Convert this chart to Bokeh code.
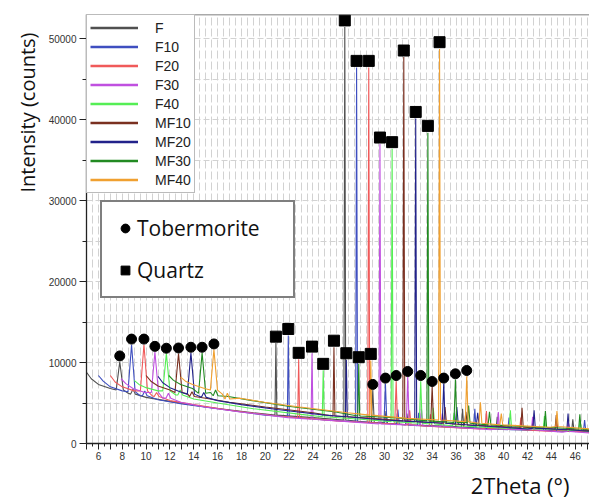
from bokeh.plotting import figure
from bokeh.models import Range1d, FixedTicker, Legend, LegendItem, Span, Title
from bokeh.embed import file_html
from bokeh.resources import INLINE

# ---------------- data ----------------
SERIES = ["F", "F10", "F20", "F30", "F40", "MF10", "MF20", "MF30", "MF40"]
COLORS = ["#505050", "#3f4fc0", "#f05a5a", "#c050e0", "#55ee55",
          "#7a3020", "#22228a", "#228a22", "#f0a030"]

# baseline knots of each trace (2theta, counts)
BASE_X = [
    [5.0, 5.4, 6.0, 7.0, 8.5, 10.0, 12.0, 15.0, 19.0, 24.0, 30.0, 36.0, 42.0, 47.2],
    [6.0, 6.4, 7.0, 8.0, 9.5, 11.0, 13.0, 16.0, 20.0, 25.0, 31.0, 37.0, 43.0, 47.2],
    [7.0, 7.4, 8.0, 9.0, 10.5, 12.0, 14.0, 17.0, 21.0, 26.0, 32.0, 38.0, 44.0, 47.2],
    [7.9, 8.3, 8.9, 9.9, 11.4, 12.9, 14.9, 17.9, 21.9, 26.9, 32.9, 38.9, 44.9, 47.2],
    [9.0, 9.4, 10.0, 11.0, 12.5, 14.0, 16.0, 19.0, 23.0, 28.0, 34.0, 40.0, 46.0, 47.2],
    [10.0, 10.4, 11.0, 12.0, 13.5, 15.0, 17.0, 20.0, 24.0, 29.0, 35.0, 41.0, 47.2],
    [11.0, 11.4, 12.0, 13.0, 14.5, 16.0, 18.0, 21.0, 25.0, 30.0, 36.0, 42.0, 47.2],
    [11.9, 12.3, 12.9, 13.9, 15.4, 16.9, 18.9, 21.9, 25.9, 30.9, 36.9, 42.9, 47.2],
    [12.9, 13.3, 13.9, 14.9, 16.4, 17.9, 19.9, 22.9, 26.9, 31.9, 37.9, 43.9, 47.2],
]
BASE_Y = [
    [8800, 8000, 7300, 6800, 6200, 5700, 5200, 4500, 3800, 3200, 2600, 2100, 1700, 1500],
    [8400, 7700, 7000, 6500, 5900, 5400, 4900, 4300, 3500, 2900, 2400, 1900, 1600, 1400],
    [8400, 7600, 7000, 6500, 5900, 5300, 4800, 4100, 3400, 2800, 2300, 1800, 1500, 1400],
    [8000, 7400, 6800, 6300, 5600, 5100, 4500, 3900, 3200, 2700, 2200, 1700, 1400, 1300],
    [7800, 7300, 6900, 6500, 6000, 5500, 5000, 4300, 3600, 3000, 2400, 1900, 1600, 1500],
    [8400, 7700, 7100, 6600, 6100, 5600, 5100, 4500, 3800, 3100, 2500, 2000, 1600],
    [8300, 7500, 6900, 6300, 5800, 5300, 4800, 4200, 3500, 2900, 2300, 1800, 1500],
    [8400, 7800, 7300, 6800, 6300, 5800, 5300, 4600, 3900, 3200, 2600, 2000, 1700],
    [8200, 7700, 7300, 6800, 6100, 5600, 5100, 4500, 3800, 3100, 2500, 2000, 1800],
]

# tobermorite peak near 7.8 deg (one per trace)
TOB1_X = [7.79, 8.78, 9.82, 10.74, 11.70, 12.72, 13.76, 14.70, 15.69]
TOB1_TOP = [10100, 12200, 12200, 11300, 11100, 11100, 11200, 11200, 11600]
TOB1_FOOT = [6600, 6400, 6500, 6300, 6500, 6300, 6100, 6200, 6600]
TOB1_MARK = [10820, 12900, 12900, 12000, 11770, 11800, 11890, 11890, 12300]

# quartz peak near 20.9 deg
Q1_X = [20.89, 21.93, 22.80, 23.92, 24.86, 25.76, 26.80, 27.84, 28.85]
Q1_TOP = [12400, 13350, 10400, 11150, 9050, 11900, 10350, 9850, 10250]
Q1_FOOT = [3500, 3300, 3200, 3000, 3300, 3400, 3300, 3400, 3500]
Q1_MARK = [13200, 14150, 11200, 11970, 9840, 12700, 11150, 10660, 11070]

# quartz main peak near 26.7 deg
Q2_X = [26.67, 27.66, 28.68, 29.62, 30.64, 31.62, 32.62, 33.64, 34.62]
Q2_TOP = [51450, 46450, 46450, 37000, 36400, 47750, 40150, 38400, 48750]
Q2_FOOT = [2900, 2700, 2600, 2400, 2700, 2800, 2700, 2800, 2900]
Q2_MARK = [52270, 47270, 47270, 37800, 37230, 48550, 40960, 39240, 49580]

# tobermorite peak near 29.0 deg
TOB2_X = [29.02, 30.08, 30.98, 31.95, 33.04, 34.00, 34.97, 35.95, 36.90]
TOB2_TOP = [6600, 7400, 7700, 8200, 7700, 7000, 7400, 7900, 8300]
TOB2_FOOT = [2600, 2500, 2400, 2300, 2500, 2600, 2500, 2600, 2700]
TOB2_MARK = [7300, 8080, 8400, 8900, 8400, 7660, 8080, 8610, 9020]

# smaller peaks
S1_X = [8.90, 9.89, 10.88, 11.87, 12.86, 13.85, 14.84, 15.83, 16.82]
S1_TOP = [6700, 6500, 6300, 6200, 6600, 6400, 6300, 6600, 6200]
S1_FOOT = [6100, 5900, 5800, 5600, 6000, 5800, 5700, 5900, 5500]

T4_X = [30.13, 31.12, 32.11, 33.10, 34.09, 35.08, 36.07, 37.06, 38.05]
T4_TOP = [4000, 4200, 4100, 4300, 4400, 4500, 4500, 4700, 5100]
T4_FOOT = [2500, 2400, 2300, 2200, 2400, 2500, 2400, 2500, 2500]

T3_X = [31.88, 32.87, 33.86, 34.85, 35.84, 36.83, 37.82, 38.81, 39.80]
T3_TOP = [3700, 3800, 3600, 3700, 3800, 3900, 3800, 3900, 3700]
T3_FOOT = [2300, 2200, 2100, 2100, 2200, 2300, 2200, 2300, 2300]

Q3_X = [36.55, 37.58, 38.55, 39.55, 40.56, 41.54, 42.55, 43.50, 44.47]
Q3_TOP = [4300, 4300, 4000, 3900, 4100, 4400, 4100, 4000, 4000]
Q3_FOOT = [2000, 1900, 1900, 1800, 1900, 2000, 1900, 2000, 2100]

Q4_X = [39.46, 40.45, 41.44, 42.43, 43.42, 44.41, 45.40, 46.39]
Q4_TOP = [3300, 3200, 3200, 3300, 3400, 3500, 3700, 3600]
Q4_FOOT = [1800, 1700, 1700, 1700, 1800, 1800, 1700, 1800]

Q5_X = [42.45, 43.44, 44.43, 45.42, 46.41]
Q5_TOP = [2800, 2700, 2700, 2700, 2900]
Q5_FOOT = [1700, 1600, 1600, 1500, 1600]

Q6_X = [45.80, 46.79]
Q6_TOP = [3000, 2900]
Q6_FOOT = [1500, 1500]

X_TICKS = list(range(5, 48))
Y_TICKS = [0, 10000, 20000, 30000, 40000, 50000]

NAN = float("nan")

# ---------------- styling ----------------
FAMILIES = [  # (x, top, foot, half width of the drawn spike in degrees)
    (TOB1_X, TOB1_TOP, TOB1_FOOT, 0.3),
    (S1_X, S1_TOP, S1_FOOT, 0.2),
    (Q1_X, Q1_TOP, Q1_FOOT, 0.08),
    (Q2_X, Q2_TOP, Q2_FOOT, 0.08),
    (TOB2_X, TOB2_TOP, TOB2_FOOT, 0.12),
    (T4_X, T4_TOP, T4_FOOT, 0.12),
    (T3_X, T3_TOP, T3_FOOT, 0.12),
    (Q3_X, Q3_TOP, Q3_FOOT, 0.1),
    (Q4_X, Q4_TOP, Q4_FOOT, 0.1),
    (Q5_X, Q5_TOP, Q5_FOOT, 0.1),
    (Q6_X, Q6_TOP, Q6_FOOT, 0.1),
]


def trace(i):
    peaks = [(fx[i], ft[i], ff[i], hw) for fx, ft, ff, hw in FAMILIES if i < len(fx)]
    pts = [(x, y) for x, y in zip(BASE_X[i], BASE_Y[i])
           if all(abs(x - px) > hw for px, _, _, hw in peaks)]
    for px, top, foot, hw in peaks:
        pts += [(px - hw, foot), (px, top), (px + hw, foot)]
    pts.sort()
    return [p[0] for p in pts], [p[1] for p in pts]


p = figure(width=589, height=504, output_backend="svg", toolbar_location=None,
           x_range=Range1d(5.0, 47.2), y_range=Range1d(0, 53000),
           min_border_left=86, min_border_right=0, min_border_top=14,
           min_border_bottom=59)
p.outline_line_color = None
p.background_fill_color = "white"
p.border_fill_color = "white"

xt = FixedTicker(ticks=X_TICKS, minor_ticks=[t + 0.5 for t in X_TICKS])
yt = FixedTicker(ticks=Y_TICKS, minor_ticks=[t + 5000 for t in Y_TICKS])
p.xaxis.ticker = xt
p.yaxis.ticker = yt
p.xaxis.major_label_overrides = {t: "" for t in X_TICKS if t % 2}
for ax in (p.xaxis, p.yaxis):
    ax.axis_line_color = "#222222"
    ax.axis_line_width = 1.3
    ax.major_tick_line_color = "#222222"
    ax.minor_tick_line_color = "#222222"
    ax.major_tick_in = 0
    ax.minor_tick_in = 0
    ax.major_label_text_font = "Liberation Sans"
    ax.major_label_text_font_size = "10px"
    ax.major_label_text_color = "#333333"
p.xaxis.major_tick_out = 6
p.xaxis.minor_tick_out = 3
p.xaxis.major_label_standoff = 2
p.yaxis.major_tick_out = 7
p.yaxis.minor_tick_out = 4
p.yaxis.major_label_standoff = 3

p.xgrid.ticker = xt
p.ygrid.ticker = yt
for g in (p.xgrid, p.ygrid):
    g.grid_line_color = "#d2d2d2"
    g.minor_grid_line_color = "#d2d2d2"
    g.grid_line_width = 1
    g.minor_grid_line_width = 1
p.xgrid.grid_line_dash = "8 3"
p.xgrid.minor_grid_line_dash = "8 3"
p.ygrid.grid_line_dash = "6 3"
p.ygrid.minor_grid_line_dash = "6 3"

p.add_layout(Span(location=53000, dimension="width", line_color="#555555",
                  line_width=1.5))

for i, c in enumerate(COLORS):
    xs, ys = trace(i)
    p.line(xs, ys, line_color=c, line_width=1.1)

p.scatter(TOB1_X + TOB2_X, TOB1_MARK + TOB2_MARK, marker="circle", size=10,
          fill_color="black", line_color="black")
p.scatter(Q1_X + Q2_X, Q1_MARK + Q2_MARK, marker="square", size=11,
          fill_color="black", line_color="black")

# legend of samples (legend-only renderers, nothing drawn in the plot)
items = []
for name, c in zip(SERIES, COLORS):
    r = p.line([NAN], [NAN], line_color=c, line_width=2.4)
    items.append(LegendItem(label=name, renderers=[r]))
leg = Legend(items=items, location="top_left", margin=0, padding=3, spacing=0,
             glyph_width=48, glyph_height=19, label_height=19, label_standoff=17,
             label_text_font="Liberation Sans", label_text_font_size="14px",
             label_text_color="#222222", border_line_color="#777777",
             border_line_width=1, background_fill_alpha=1)
p.add_layout(leg)

# legend of phases
rc = p.scatter([NAN], [NAN], marker="circle", size=10, fill_color="black",
               line_color="black")
rs = p.scatter([NAN], [NAN], marker="square", size=10, fill_color="black",
               line_color="black")
leg2 = Legend(items=[LegendItem(label="Tobermorite", renderers=[rc]),
                     LegendItem(label="Quartz", renderers=[rs])],
              location=(14, 145), padding=12, spacing=14,
              glyph_width=22, glyph_height=28, label_height=28, label_standoff=1,
              label_width=144,
              label_text_font="Open Sans", label_text_font_size="21px",
              label_text_color="#111111", border_line_color="black",
              border_line_width=2, background_fill_alpha=1)
p.add_layout(leg2)

p.add_layout(Title(text="Intensity (counts)", align="right", offset=18,
                   text_font="Open Sans", text_font_size="20px",
                   text_font_style="normal", text_color="#111111"), "left")
p.add_layout(Title(text="2Theta (°)", align="right", offset=20,
                   text_font="Open Sans", text_font_size="22px",
                   text_font_style="normal", text_color="#111111"), "below")

open("out.html", "w").write(file_html(p, INLINE))
